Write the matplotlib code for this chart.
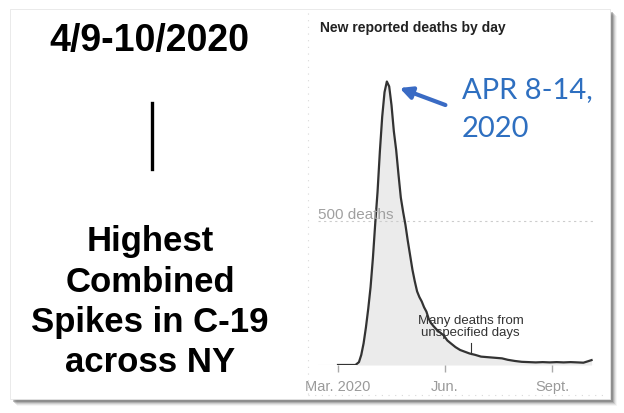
import matplotlib
matplotlib.use("Agg")
import matplotlib.pyplot as plt
import matplotlib.patches as patches
import matplotlib.lines as mlines
import pandas as pd

# data (NY new reported deaths by day, smoothed)
dates = ["2020-03-01", "2020-03-10", "2020-03-16", "2020-03-19", "2020-03-21",
         "2020-03-23", "2020-03-25", "2020-03-27", "2020-03-29", "2020-03-31",
         "2020-04-02", "2020-04-04", "2020-04-06", "2020-04-08", "2020-04-10",
         "2020-04-12", "2020-04-14", "2020-04-16", "2020-04-18", "2020-04-20",
         "2020-04-22", "2020-04-24", "2020-04-26", "2020-04-28", "2020-04-30",
         "2020-05-02", "2020-05-04", "2020-05-06", "2020-05-08", "2020-05-10",
         "2020-05-12", "2020-05-14", "2020-05-16", "2020-05-18", "2020-05-20",
         "2020-05-22", "2020-05-25", "2020-05-28", "2020-05-31", "2020-06-03",
         "2020-06-06", "2020-06-10", "2020-06-14", "2020-06-18", "2020-06-22",
         "2020-06-27", "2020-07-02", "2020-07-08", "2020-07-14", "2020-07-20",
         "2020-07-25", "2020-07-31", "2020-08-06", "2020-08-12", "2020-08-18",
         "2020-08-24", "2020-08-30", "2020-09-05", "2020-09-11", "2020-09-17",
         "2020-09-23", "2020-09-28", "2020-10-02", "2020-10-05"]
deaths = [0, 0, 0, 10, 35,
          75, 130, 195, 270, 370,
          490, 600, 740, 860, 945,
          982, 965, 900, 810, 745,
          660, 580, 530, 485, 430,
          380, 330, 290, 255, 235,
          220, 200, 185, 160, 145,
          135, 122, 112, 102, 85,
          75, 62, 52, 46, 40,
          35, 29, 27, 25, 23,
          18, 14, 11, 10, 9,
          10, 9, 10, 9, 10,
          9, 8, 13, 17]

tick_dates = ["2020-03-01", "2020-06-01", "2020-09-01"]
tick_labels = ["Mar. 2020", "Jun.", "Sept."]

left_title = "4/9-10/2020"
left_lines = ["Highest", "Combined", "Spikes in C-19", "across NY"]
callout = ["APR 8-14,", "2020"]

W, H = 624, 414


def fx(x):
    return x / W


def fy(y):
    return 1 - y / H


fig = plt.figure(figsize=(W / 100, H / 100), dpi=100)
fig.patch.set_facecolor("white")

# drop shadow + white card
for off, a in [(7, 0.06), (6, 0.10), (5, 0.16), (4, 0.25), (3, 0.35)]:
    fig.patches.append(patches.Rectangle((fx(10 + off), fy(400 + off)), fx(600), 390 / H,
                                         transform=fig.transFigure, facecolor="#555555",
                                         edgecolor="none", alpha=a, zorder=-3))
fig.patches.append(patches.Rectangle((fx(10), fy(400)), fx(600), 390 / H,
                                     transform=fig.transFigure, facecolor="white",
                                     edgecolor="#e6e6e6", linewidth=0.6, zorder=-2))

# faint dotted panel borders
fig.lines.append(mlines.Line2D([fx(308), fx(308)], [fy(14), fy(396)], transform=fig.transFigure,
                               color="#d8d8d8", lw=0.8, ls=(0, (1, 5)), zorder=-1))
fig.lines.append(mlines.Line2D([fx(308), fx(606)], [fy(396), fy(396)], transform=fig.transFigure,
                               color="#d8d8d8", lw=0.8, ls=(0, (1, 5)), zorder=-1))

# left side text
fig.text(fx(149), fy(41), left_title, ha="center", va="center", fontsize=27,
         fontweight="bold", family="Liberation Sans", color="black")
fig.lines.append(mlines.Line2D([fx(152), fx(152)], [fy(104), fy(170)], transform=fig.transFigure,
                               color="black", lw=2.4, zorder=3))
for i, s in enumerate(left_lines):
    fig.text(fx(150), fy(251 + 40.5 * i), s, ha="center", va="baseline", fontsize=25,
             fontweight="bold", family="Liberation Sans", color="black")

# chart
x = pd.to_datetime(dates)
base = pd.Timestamp("2020-03-01")
ax = fig.add_axes([fx(318), fy(366), (594 - 318) / W, (366 - 60) / H])
ax.set_zorder(5)
ax.set_facecolor("none")
ax.fill_between(x, deaths, 0, color="#ebebeb", lw=0, zorder=1)
ax.plot(x, deaths, color="#333333", lw=1.6, zorder=3, solid_joinstyle="round")
ax.axhline(500, color="#cccccc", lw=0.8, ls=(0, (2, 3)), zorder=2)
ax.axhline(0, color="#dddddd", lw=0.8, zorder=0)
ax.set_xlim(base - pd.Timedelta(days=17.2), base + pd.Timedelta(days=220.1))
ax.set_ylim(0, 1060)
for sp in ax.spines.values():
    sp.set_visible(False)
ax.set_yticks([])
ax.set_xticks(pd.to_datetime(tick_dates))
ax.set_xticklabels(tick_labels, family="Liberation Sans", fontsize=10.5, color="#9a9a9a")
ax.tick_params(axis="x", length=5, width=1, color="#aaaaaa", pad=5)

ax.text(0.0, 500, "500 deaths", transform=ax.get_yaxis_transform(), ha="left", va="bottom",
        fontsize=11, color="#a0a0a0", family="Liberation Sans")

ann_x = pd.Timestamp("2020-06-23")
ax.text(ann_x, 92, "Many deaths from\nunspecified days", ha="center", va="bottom",
        fontsize=9.5, color="#333333", family="Liberation Sans", linespacing=1.05)
ax.plot([ann_x, ann_x], [38, 75], color="#333333", lw=0.8)

fig.text(fx(320), fy(28), "New reported deaths by day", ha="left", va="center",
         fontsize=10, fontweight="bold", family="Liberation Sans", color="#222222")

# blue call-out
for i, s in enumerate(callout):
    fig.text(fx(462), fy(98 + 39 * i), s, ha="left", va="baseline", fontsize=21,
             family="Lato", color="#2e6fc0")
fig.patches.append(patches.FancyArrowPatch((fx(448), fy(107)), (fx(397), fy(88)),
                                           transform=fig.transFigure, arrowstyle="-|>",
                                           mutation_scale=18, lw=3, color="#3a6bc4", zorder=6))

fig.savefig("out.png", dpi=100)
